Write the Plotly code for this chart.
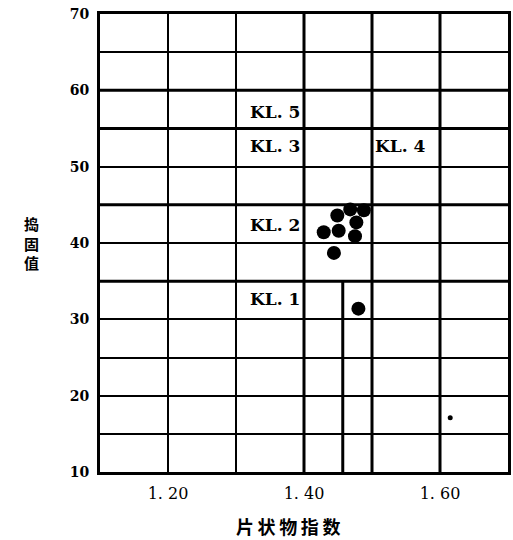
import plotly.graph_objects as go

# Measured samples: flakiness index vs. tamping value
flakiness = [1.429, 1.451, 1.449, 1.468, 1.488, 1.477, 1.475, 1.444, 1.480]
tamping = [41.4, 41.6, 43.6, 44.4, 44.3, 42.7, 40.9, 38.7, 31.4]

# Single isolated small observation
stray_x = [1.615]
stray_y = [17.1]

# Class labels and where they sit
class_names = ["KL. 5", "KL. 3", "KL. 4", "KL. 2", "KL. 1"]
class_x = [1.395, 1.395, 1.503, 1.395, 1.395]
class_y = [57.2, 52.7, 52.7, 42.3, 32.6]
class_anchor = ["right", "right", "left", "right", "right"]

# Axis ticks
x_ticks = [1.20, 1.40, 1.60]
x_tick_text = ["1. 20", "1. 40", "1. 60"]
y_ticks = [10, 20, 30, 40, 50, 60, 70]
y_tick_text = ["<b>%d</b>" % v for v in y_ticks]

# Class boundaries (drawn heavier than the grid)
h_bounds = [60, 55, 45, 35]
v_bounds = [1.40, 1.50, 1.60]
split_x = 1.457
split_y = [10, 35]

x_range = [1.10, 1.70]
y_range = [10, 70]

fig = go.Figure()

bx, by = [], []
for h in h_bounds:
    bx += [x_range[0], x_range[1], None]
    by += [h, h, None]
for v in v_bounds:
    bx += [v, v, None]
    by += [y_range[0], y_range[1], None]
bx += [split_x, split_x, None]
by += [split_y[0], split_y[1], None]

fig.add_trace(go.Scatter(
    x=bx, y=by, mode="lines",
    line=dict(color="black", width=3),
    hoverinfo="skip", showlegend=False,
))

fig.add_trace(go.Scatter(
    x=flakiness, y=tamping, mode="markers",
    marker=dict(color="black", size=14),
    showlegend=False,
))

fig.add_trace(go.Scatter(
    x=stray_x, y=stray_y, mode="markers",
    marker=dict(color="black", size=5),
    showlegend=False,
))

for name, cx, cy, anc in zip(class_names, class_x, class_y, class_anchor):
    fig.add_annotation(
        x=cx, y=cy, text="<b>" + name + "</b>", showarrow=False,
        xanchor=anc, yanchor="middle",
        bgcolor="white", borderpad=0,
        font=dict(family="DejaVu Serif", size=17, color="black"),
    )

fig.add_annotation(
    xref="paper", yref="paper", x=-0.19, y=0.5,
    text="<b>捣<br>固<br>值</b>", showarrow=False,
    font=dict(family="Noto Sans CJK SC", size=15, color="black"),
)
fig.add_annotation(
    xref="paper", yref="paper", x=0.46, y=-0.118,
    xanchor="center", yanchor="middle",
    text="<b>片\u2009状\u2009物\u2009指\u2009数</b>", showarrow=False,
    font=dict(family="Noto Sans CJK SC", size=18, color="black"),
)

fig.update_xaxes(
    range=x_range,
    tickvals=x_ticks, ticktext=x_tick_text,
    showgrid=False,
    minor=dict(dtick=0.1, tick0=1.1, showgrid=True, gridcolor="black", gridwidth=2),
    showline=True, mirror=True, linecolor="black", linewidth=3,
    ticks="", ticklabelstandoff=5,
    tickfont=dict(family="DejaVu Serif", size=16, color="black"),
    zeroline=False,
)
fig.update_yaxes(
    range=y_range,
    tickvals=y_ticks, ticktext=y_tick_text,
    showgrid=False,
    minor=dict(dtick=5, tick0=10, showgrid=True, gridcolor="black", gridwidth=2),
    showline=True, mirror=True, linecolor="black", linewidth=3,
    ticks="", ticklabelstandoff=5,
    tickfont=dict(family="DejaVu Serif", size=14, color="black"),
    zeroline=False,
)

fig.update_layout(
    width=513, height=540,
    margin=dict(l=100, r=2, t=14, b=68),
    plot_bgcolor="white", paper_bgcolor="white",
    showlegend=False,
)

fig.write_html("out.html")
